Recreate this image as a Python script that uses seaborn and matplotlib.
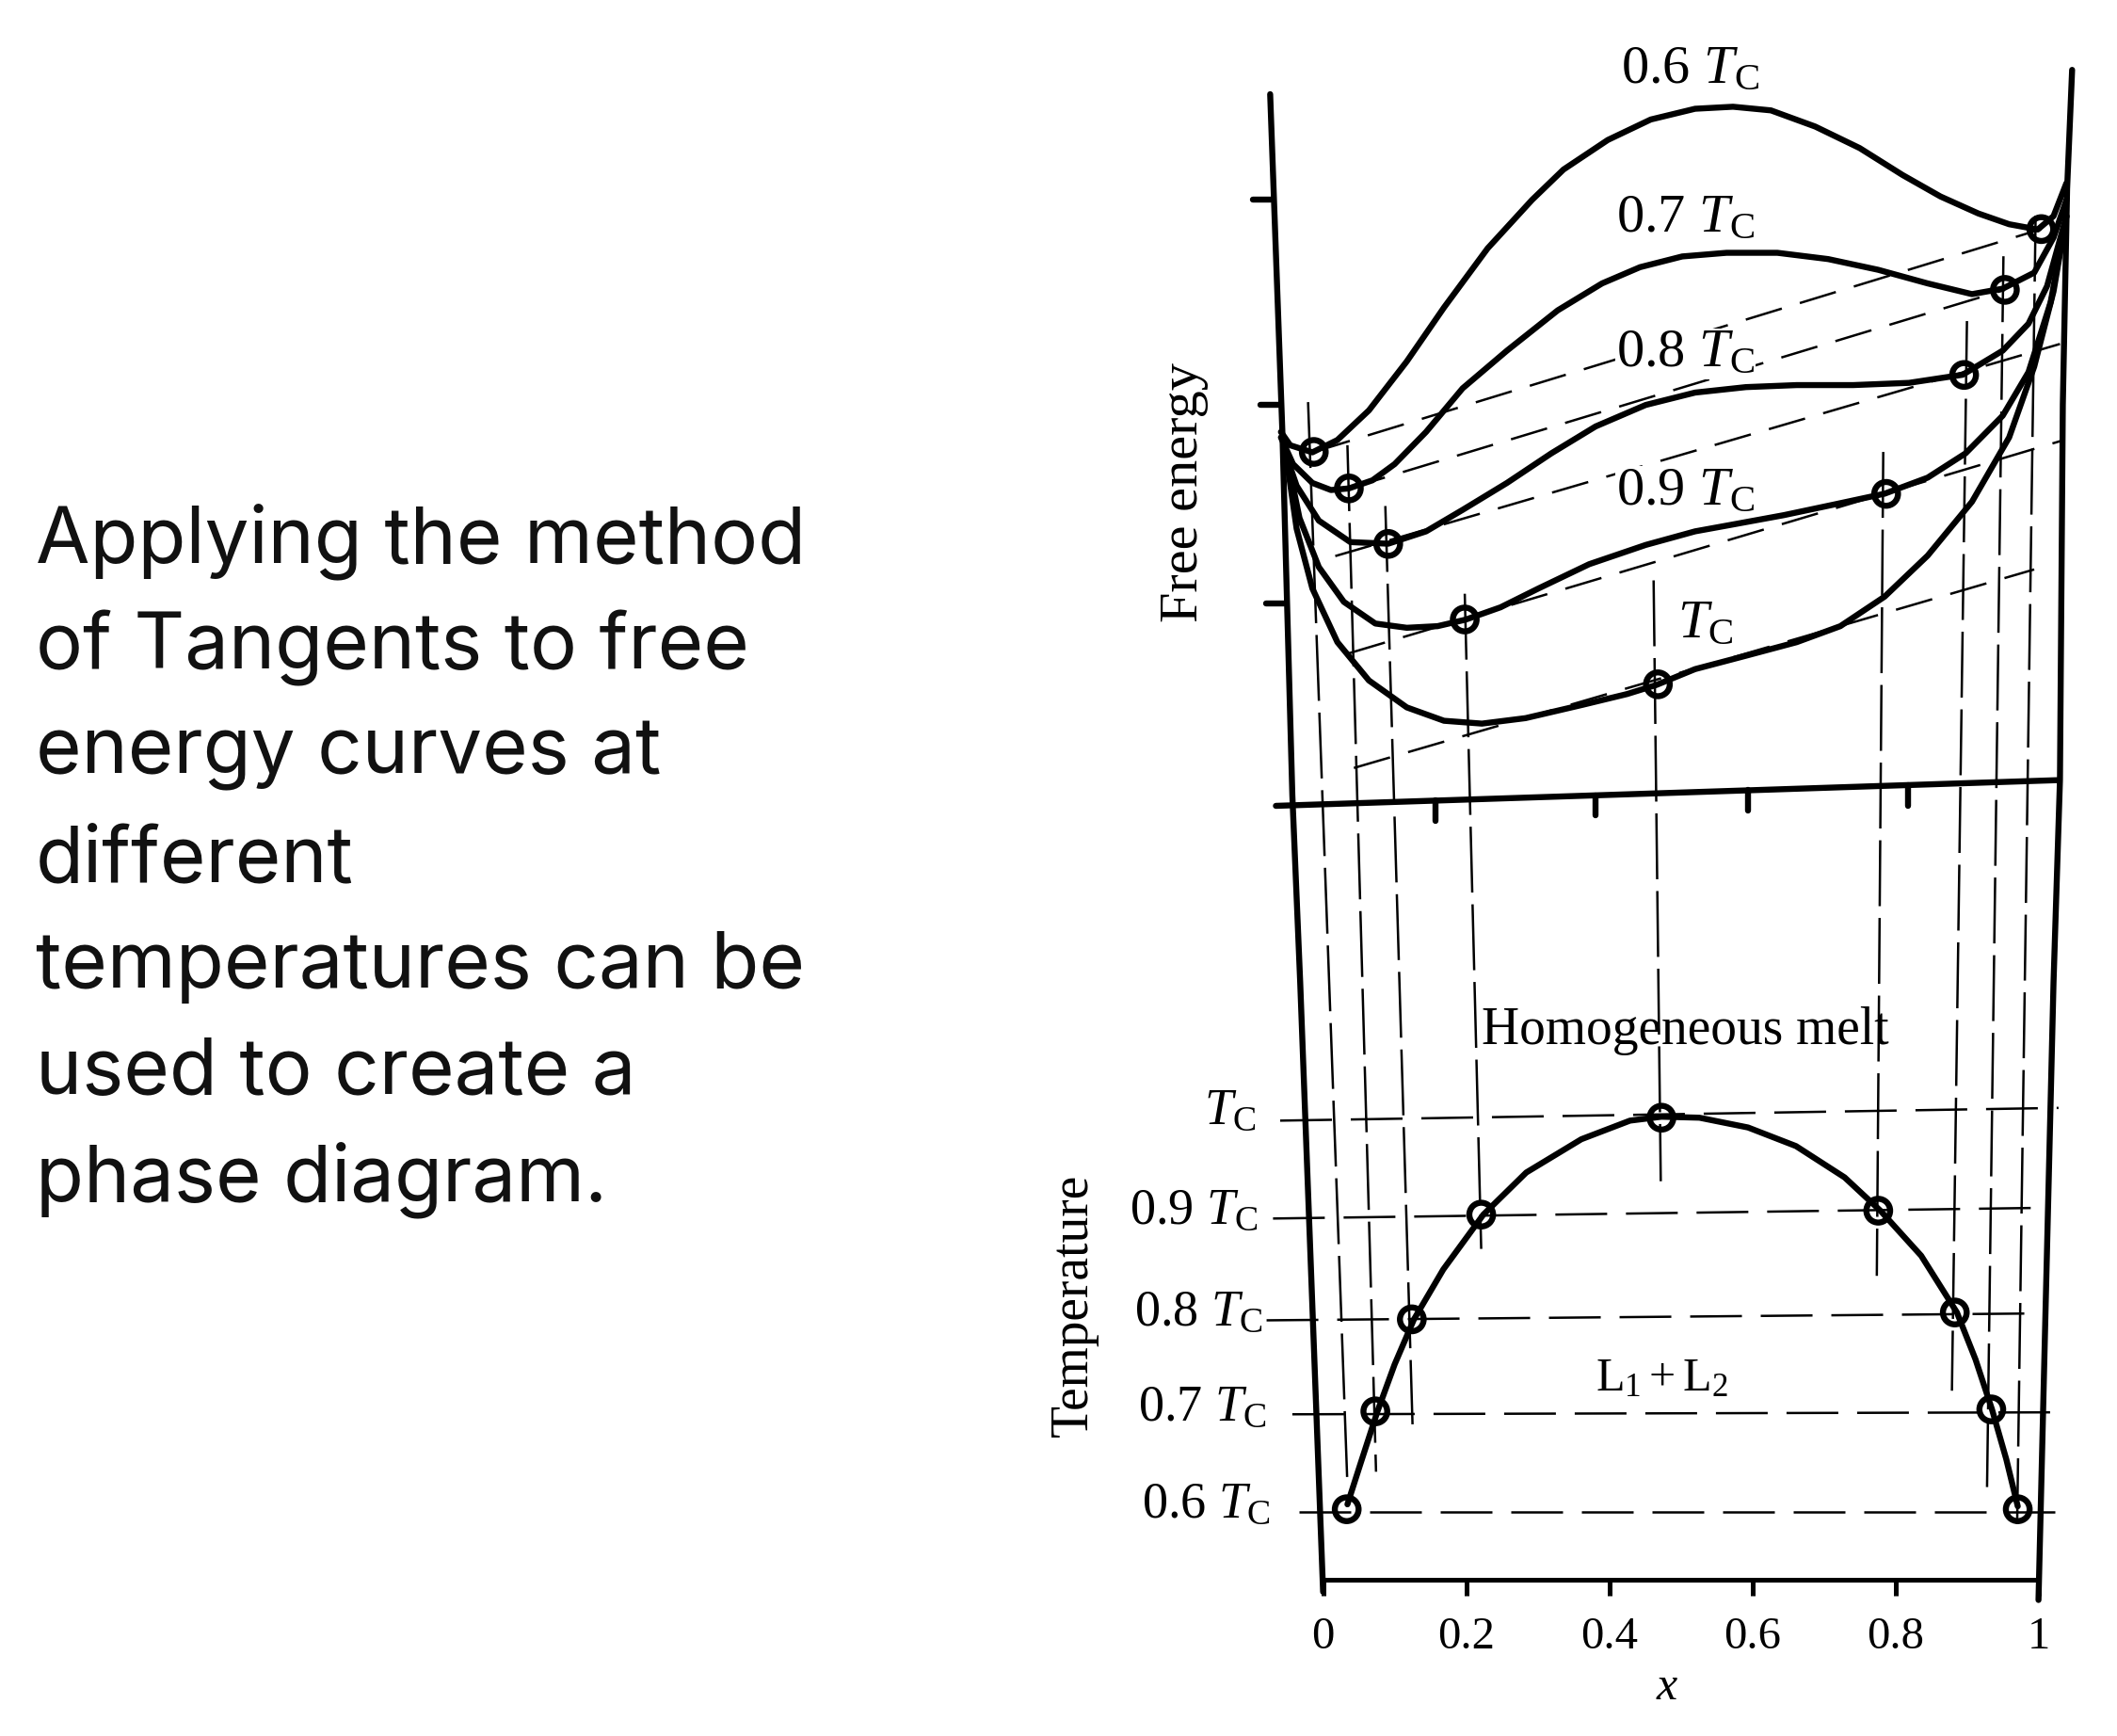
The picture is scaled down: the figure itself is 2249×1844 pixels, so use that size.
"""Free energy curves and the phase diagram built from their tangents"""
import matplotlib
matplotlib.use('Agg')
import matplotlib.pyplot as plt
import seaborn as sns

# free energy curves, x = composition, g = free energy in tick units
x_06 = [-0.059, -0.046, -0.015, 0.020, 0.064, 0.117, 0.169, 0.230, 0.292, 0.336, 0.398, 0.458,
        0.520, 0.573, 0.626, 0.688, 0.750, 0.810, 0.863, 0.916, 0.959, 0.999, 1.021, 1.039]
g_06 = [1.846, 1.780, 1.745, 1.806, 1.952, 2.194, 2.460, 2.752, 2.991, 3.141, 3.287, 3.388,
        3.441, 3.451, 3.433, 3.353, 3.247, 3.114, 3.008, 2.924, 2.871, 2.845, 2.911, 3.074]
x_07 = [-0.059, -0.042, -0.015, 0.011, 0.036, 0.069, 0.100, 0.144, 0.195, 0.257, 0.328, 0.390,
        0.443, 0.502, 0.564, 0.635, 0.706, 0.776, 0.845, 0.907, 0.950, 0.994, 1.021, 1.039]
g_07 = [1.819, 1.687, 1.594, 1.559, 1.567, 1.607, 1.687, 1.846, 2.061, 2.247, 2.446, 2.579,
        2.659, 2.712, 2.730, 2.730, 2.699, 2.646, 2.579, 2.526, 2.553, 2.632, 2.805, 2.991]
x_08 = [-0.055, -0.037, -0.006, 0.038, 0.091, 0.144, 0.195, 0.257, 0.319, 0.381, 0.451,
        0.520, 0.591, 0.662, 0.741, 0.819, 0.894, 0.950, 0.986, 1.012, 1.039]
g_08 = [1.766, 1.580, 1.408, 1.302, 1.294, 1.355, 1.461, 1.594, 1.740, 1.873, 1.979,
        2.040, 2.067, 2.077, 2.077, 2.088, 2.128, 2.247, 2.380, 2.566, 2.911]
x_09 = [-0.050, -0.033, -0.006, 0.029, 0.073, 0.117, 0.160, 0.199, 0.248, 0.301, 0.372, 0.451,
        0.520, 0.573, 0.644, 0.715, 0.785, 0.845, 0.898, 0.950, 0.986, 1.017, 1.039]
g_09 = [1.713, 1.421, 1.179, 1.007, 0.900, 0.879, 0.887, 0.919, 0.980, 1.073, 1.193, 1.288,
        1.355, 1.389, 1.435, 1.488, 1.541, 1.620, 1.740, 1.926, 2.141, 2.486, 2.911]
x_10 = [-0.050, -0.037, -0.015, 0.020, 0.064, 0.117, 0.169, 0.222, 0.283, 0.363, 0.425, 0.466,
        0.520, 0.591, 0.662, 0.723, 0.785, 0.845, 0.907, 0.959, 0.994, 1.021, 1.039]
g_10 = [1.687, 1.368, 1.073, 0.808, 0.619, 0.486, 0.420, 0.406, 0.433, 0.499, 0.552, 0.597,
        0.675, 0.741, 0.808, 0.887, 1.033, 1.235, 1.501, 1.819, 2.168, 2.539, 2.911]

# tangent points on the curves
tangent_x = [-0.013, 1.004, 0.036, 0.953, 0.091, 0.896, 0.198, 0.787, 0.468]
tangent_g = [1.747, 2.847, 1.567, 2.547, 1.293, 2.127, 0.920, 1.540, 0.600]

# common tangents, start and end
tan_x0 = [-0.013, 0.036, 0.017, 0.036, 0.043]
tan_g0 = [1.747, 1.567, 1.233, 0.753, 0.187]
tan_x1 = [1.004, 0.953, 1.030, 1.030, 0.994]
tan_g1 = [2.847, 2.547, 2.280, 1.800, 1.167]

# guides running down from the free energy curves to the phase diagram
guide_x0 = [-0.021, 0.034, 0.087, 0.198, 0.462, 0.783, 0.900, 0.951, 0.996]
guide_g0 = [1.993, 1.780, 1.480, 1.047, 1.113, 1.747, 2.393, 2.713, 2.913]
guide_x1 = [0.034, 0.074, 0.125, 0.221, 0.472, 0.774, 0.879, 0.928, 0.970]
guide_g1 = [-3.353, -3.287, -3.053, -2.187, -1.853, -2.320, -2.887, -3.387, -3.587]

# scanned frame of the drawing
left_wall_x = [-0.074, -0.057, -0.043, -0.032, 0.000]
left_wall_g = [3.513, 1.853, 0.053, -0.873, -3.880]
right_wall_x = [1.047, 1.040, 1.034, 1.030, 1.021, 1.000]
right_wall_g = [3.633, 3.047, 1.980, 0.127, -0.873, -3.920]
base_x = [-0.066, 1.028]
base_g = [0.000, 0.127]
base_tick_x = [0.157, 0.381, 0.594, 0.817]
base_tick_g = [0.026, 0.052, 0.077, 0.102]
side_tick_g = [2.993, 1.980, 1.000]
side_tick_x = [-0.098, -0.087, -0.080]

# phase diagram
binodal_x = [0.034, 0.052, 0.076, 0.100, 0.127, 0.168, 0.224, 0.284, 0.361, 0.429, 0.473,
             0.526, 0.594, 0.661, 0.729, 0.779, 0.836, 0.886, 0.912, 0.935, 0.955, 0.971]
binodal_t = [0.605, 0.646, 0.700, 0.748, 0.794, 0.845, 0.901, 0.944, 0.978, 0.997, 1.001,
             1.000, 0.990, 0.971, 0.939, 0.905, 0.859, 0.801, 0.753, 0.702, 0.651, 0.603]
phase_x = [0.033, 0.073, 0.124, 0.221, 0.473, 0.776, 0.883, 0.934, 0.971]
phase_t = [0.600, 0.700, 0.794, 0.901, 1.000, 0.905, 0.801, 0.702, 0.600]

tie_x0 = [-0.060, -0.070, -0.079, -0.043, -0.034]
tie_t0 = [0.997, 0.897, 0.793, 0.697, 0.597]
tie_x1 = [1.028, 1.013, 0.994, 1.019, 1.023]
tie_t1 = [1.010, 0.908, 0.800, 0.699, 0.597]

x_ticks = [0, 0.2, 0.4, 0.6, 0.8, 1]
x_tick_labels = ['0', '0.2', '0.4', '0.6', '0.8', '1']
curve_labels = ['0.6 $T_{\\mathrm{C}}$', '0.7 $T_{\\mathrm{C}}$', '0.8 $T_{\\mathrm{C}}$',
                '0.9 $T_{\\mathrm{C}}$', '$T_{\\mathrm{C}}$']
curve_label_x = [0.513, 0.506, 0.506, 0.506, 0.534]
curve_label_g = [3.632, 2.898, 2.232, 1.552, 0.898]
temp_labels = ['$T_{\\mathrm{C}}$', '0.9 $T_{\\mathrm{C}}$', '0.8 $T_{\\mathrm{C}}$',
               '0.7 $T_{\\mathrm{C}}$', '0.6 $T_{\\mathrm{C}}$']
temp_label_x = [-0.094, -0.091, -0.085, -0.079, -0.074]
temp_label_t = [1.007, 0.905, 0.801, 0.704, 0.605]

slide_text = ['Applying the method', 'of Tangents to free', 'energy curves at', 'different',
              'temperatures can be', 'used to create a', 'phase diagram.']

sns.set_theme(style='white')
plt.rcParams['font.family'] = ['Liberation Serif', 'DejaVu Serif']
plt.rcParams['text.color'] = 'black'
plt.rcParams['mathtext.fontset'] = 'custom'
plt.rcParams['mathtext.rm'] = 'Liberation Serif'
plt.rcParams['mathtext.it'] = 'Liberation Serif:italic'

W, H = 2249, 1844
fig = plt.figure(figsize=(W / 100, H / 100), dpi=100, facecolor='white')
box = [1405.6 / W, (H - 1678) / H, 760 / W, 1621 / H]

# both axes share the x scale and cover the whole drawing
ax_t = fig.add_axes(box, facecolor='none')
ax_g = fig.add_axes(box, facecolor='none')
ax_t.set_xlim(0, 1)
ax_g.set_xlim(0, 1)
ax_t.set_ylim(0.528, 2.087)
ax_g.set_ylim(-3.82, 3.713)

CURVE = 4.6
THIN = 1.8
LINE_KW = dict(color='black', sort=False, estimator=None, errorbar=None,
               legend=False, clip_on=False)


def draw(ax, x, y, lw=CURVE, **kwargs):
    sns.lineplot(x=x, y=y, ax=ax, linewidth=lw, **LINE_KW, **kwargs)


def rings(ax, x, y):
    sns.scatterplot(x=x, y=y, ax=ax, s=330, facecolor='none', edgecolor='black',
                    linewidth=4.6, legend=False, clip_on=False, zorder=5)


# frame
draw(ax_g, left_wall_x, left_wall_g)
draw(ax_g, right_wall_x, right_wall_g)
draw(ax_g, base_x, base_g)
for x, g in zip(base_tick_x, base_tick_g):
    draw(ax_g, [x, x], [g, g - 0.1])
for x, g in zip(side_tick_x, side_tick_g):
    draw(ax_g, [x, x + 0.025], [g, g])

# guides and tangents sit behind the curves
for i in range(len(guide_x0)):
    draw(ax_g, [guide_x0[i], guide_x1[i]], [guide_g0[i], guide_g1[i]], lw=THIN,
         linestyle=(0, (28, 5)))
for i in range(len(tan_x0)):
    draw(ax_g, [tan_x0[i], tan_x1[i]], [tan_g0[i], tan_g1[i]], lw=THIN,
         linestyle=(0, (16, 8)))
for i in range(len(tie_x0)):
    draw(ax_t, [tie_x0[i], tie_x1[i]], [tie_t0[i], tie_t1[i]], lw=THIN,
         linestyle=(0, (22, 8)))

# free energy curves
for x, g in [(x_06, g_06), (x_07, g_07), (x_08, g_08), (x_09, g_09), (x_10, g_10)]:
    draw(ax_g, x, g)
rings(ax_g, tangent_x, tangent_g)

# phase diagram
draw(ax_t, binodal_x, binodal_t)
rings(ax_t, phase_x, phase_t)

# labels
for x, g, s in zip(curve_label_x, curve_label_g, curve_labels):
    ax_g.text(x, g, s, fontsize=42, ha='center', va='center', zorder=4,
              bbox=dict(facecolor='white', edgecolor='none', pad=1))
for x, t, s in zip(temp_label_x, temp_label_t, temp_labels):
    ax_t.text(x, t, s, fontsize=39, ha='right', va='center')
ax_g.text(-0.194, 1.547, 'Free energy', fontsize=42, rotation=90, ha='center', va='center')
ax_t.text(-0.348, 0.808, 'Temperature', fontsize=40, rotation=90, ha='center', va='center')
ax_t.text(0.506, 1.089, 'Homogeneous melt', fontsize=40, ha='center', va='center')
ax_t.text(0.474, 0.733, '$\\mathrm{L}_1 + \\mathrm{L}_2$', fontsize=36, ha='center', va='center')

# axes
ax_g.axis('off')
ax_t.set_yticks([])
ax_t.set_xticks(x_ticks)
ax_t.set_xticklabels(x_tick_labels, fontsize=35)
ax_t.tick_params(axis='x', bottom=True, length=12, width=3.6, color='black',
                 labelcolor='black', pad=16)
ax_t.set_xlabel('x', fontsize=36, style='italic', color='black', labelpad=6, x=0.48)
sns.despine(ax=ax_t, left=True, right=True, top=True)
ax_t.spines['bottom'].set_linewidth(3.6)
ax_t.spines['bottom'].set_color('black')

# slide text on the left
for i, line in enumerate(slide_text):
    fig.text(38 / W, 1 - (575 + i * 113) / H, line, fontsize=60, color='#111111',
             family='Inter', ha='left', va='center')

fig.savefig('out.png', dpi=100)
